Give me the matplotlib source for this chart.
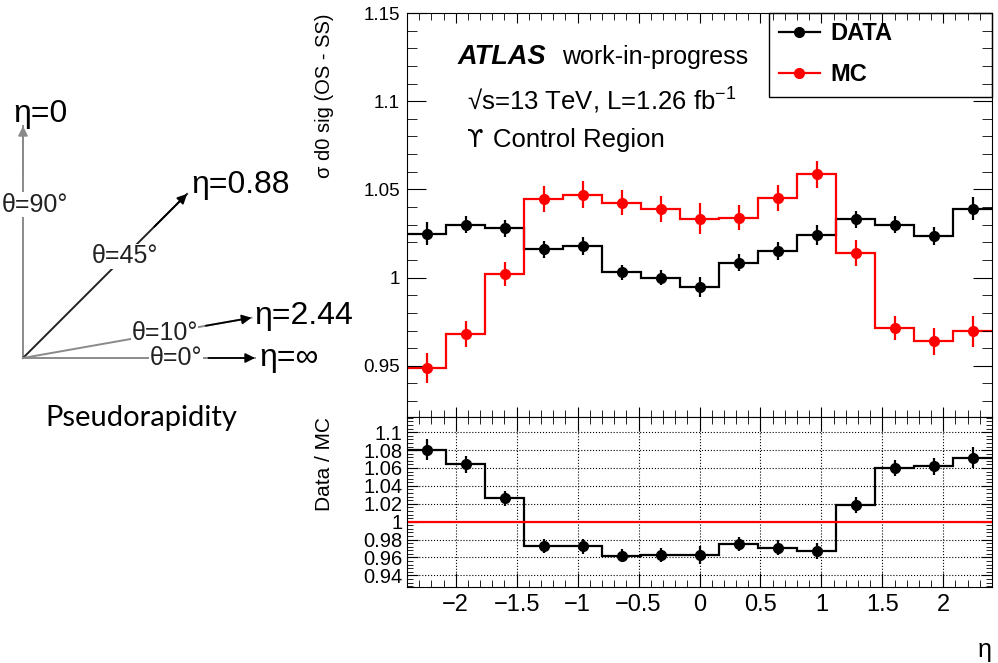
import numpy as np
import matplotlib
matplotlib.use('Agg')
import matplotlib.pyplot as plt
from matplotlib.patches import Rectangle
from matplotlib.lines import Line2D
from matplotlib.ticker import MultipleLocator, FuncFormatter

plt.rcParams['font.family'] = ['Liberation Sans', 'DejaVu Sans']
plt.rcParams['mathtext.fontset'] = 'custom'
plt.rcParams['mathtext.rm'] = 'Liberation Sans'
plt.rcParams['mathtext.it'] = 'Liberation Sans:italic'
plt.rcParams['mathtext.bf'] = 'Liberation Sans:bold'

# eta bins (15 bins)
eta_edges = [-2.4, -2.08, -1.76, -1.44, -1.12, -0.8, -0.48, -0.16,
             0.16, 0.48, 0.8, 1.12, 1.44, 1.76, 2.08, 2.4]

data_vals = [1.025, 1.030, 1.028, 1.016, 1.018, 1.003, 1.000, 0.9945,
             1.0085, 1.015, 1.024, 1.033, 1.030, 1.0235, 1.039]
data_errs = [0.0063, 0.0049, 0.0047, 0.0047, 0.0051, 0.0044, 0.0042, 0.0057,
             0.0048, 0.0050, 0.0057, 0.0050, 0.0049, 0.0052, 0.0066]
mc_vals = [0.9485, 0.968, 1.002, 1.0445, 1.047, 1.0425, 1.039, 1.0335,
           1.034, 1.0453, 1.0585, 1.014, 0.9715, 0.964, 0.9696]
mc_errs = [0.0085, 0.0075, 0.0069, 0.0073, 0.0075, 0.0070, 0.0072, 0.0090,
           0.0070, 0.0073, 0.0075, 0.0074, 0.0066, 0.0076, 0.0088]

# pseudorapidity sketch
theta_deg = [90, 45, 10, 0]
theta_labels = ['θ=90°', 'θ=45°', 'θ=10°', 'θ=0°']
eta_labels = ['η=0', 'η=0.88', 'η=2.44', 'η=∞']

edges = np.array(eta_edges)
centers = 0.5 * (edges[1:] + edges[:-1])
d = np.array(data_vals)
m = np.array(mc_vals)
ratio = d / m
ratio_err = ratio * np.sqrt((np.array(data_errs) / d) ** 2 + (np.array(mc_errs) / m) ** 2)

W, H = 998, 663
fig = plt.figure(figsize=(W / 100, H / 100), dpi=100)


def rect(x0, y0, x1, y1):
    return [x0 / W, 1 - y1 / H, (x1 - x0) / W, (y1 - y0) / H]


def fmt(v, pos):
    s = f'{v:g}'
    if s == '-0':
        s = '0'
    return s.replace('-', '\u2212')


# ---- sketch on the left ----
dax = fig.add_axes(rect(0, 0, 400, H))
dax.set_xlim(0, 400)
dax.set_ylim(H, 0)
dax.axis('off')
dax.patch.set_visible(False)
ox, oy = 23, 358
L = 232
line_cols = ['#8a8a8a', '#222222', '#8a8a8a', '#8a8a8a']
eta_off = [(-10, -12), (4, -9), (3, -2), (4, 0)]
lab_frac = [0.66, 0.62, 0.62, 0.66]
for i, th in enumerate(theta_deg):
    c, s = np.cos(np.radians(th)), np.sin(np.radians(th))
    tx, ty = ox + L * c, oy - L * s
    dax.plot([ox, tx], [oy, ty], color=line_cols[i], lw=1.4)
    dax.annotate('', xy=(tx, ty), xytext=(ox + 0.8 * L * c, oy - 0.8 * L * s),
                 arrowprops=dict(arrowstyle='-|>', color='black' if i else line_cols[i],
                                 lw=1.3, mutation_scale=14, shrinkA=0, shrinkB=0))
    lx, ly = ox + lab_frac[i] * L * c, oy - lab_frac[i] * L * s
    if th == 90:
        dax.text(2, ly, theta_labels[i], fontsize=18, ha='left', va='center',
                 color='#222222', bbox=dict(fc='white', ec='none', pad=0.3))
    else:
        dax.text(lx, ly, theta_labels[i], fontsize=18, ha='center', va='center',
                 color='#222222', bbox=dict(fc='white', ec='none', pad=0.3))
    dax.text(tx + eta_off[i][0], ty + eta_off[i][1], eta_labels[i], fontsize=23,
             ha='left', va='center')
dax.text(141, 418, 'Pseudorapidity', fontsize=21, ha='center', va='center',
         family=['Lato', 'DejaVu Sans'])

# ---- main panel ----
ax = fig.add_axes(rect(407, 13, 992, 417))
ax.stairs(data_vals, edges, color='black', lw=1.6, baseline=None)
ax.errorbar(centers, data_vals, yerr=data_errs, fmt='o', color='black', ms=7,
            elinewidth=1.6, capsize=0)
ax.stairs(mc_vals, edges, color='red', lw=1.6, baseline=None)
ax.errorbar(centers, mc_vals, yerr=mc_errs, fmt='o', color='red', ms=7,
            elinewidth=1.6, capsize=0)
ax.set_xlim(-2.4, 2.4)
ax.set_ylim(0.921, 1.15)
ax.xaxis.set_major_locator(MultipleLocator(0.5))
ax.xaxis.set_minor_locator(MultipleLocator(0.1))
ax.yaxis.set_major_locator(MultipleLocator(0.05))
ax.yaxis.set_minor_locator(MultipleLocator(0.01))
ax.yaxis.set_major_formatter(FuncFormatter(fmt))
ax.tick_params(which='both', direction='in', top=True, right=True, labelbottom=False)
ax.tick_params(axis='y', which='major', length=14, labelsize=13.5, pad=5)
ax.tick_params(axis='y', which='minor', length=7)
ax.tick_params(axis='x', which='major', length=7)
ax.tick_params(axis='x', which='minor', length=5)
ax.set_ylabel('σ d0 sig (OS - SS)', fontsize=14.5, loc='top')
ax.yaxis.set_label_coords(-0.125, 1.0)

ax.text(0.087, 0.874, 'ATLAS', transform=ax.transAxes, fontsize=19.5,
        fontweight='bold', fontstyle='italic', va='baseline')
ax.text(0.265, 0.874, 'work-in-progress', transform=ax.transAxes, fontsize=18,
        va='baseline')
ax.text(0.1026, 0.760, '√s=13 TeV, L=1.26 fb$^{-1}$', transform=ax.transAxes,
        fontsize=18.5, va='baseline')
ax.text(0.1026, 0.668, 'ϒ', transform=ax.transAxes, family=['DejaVu Sans'],
        fontsize=17, va='baseline')
ax.text(0.147, 0.668, 'Control Region', transform=ax.transAxes,
        fontsize=18.5, va='baseline')

handles = [Line2D([], [], color='black', marker='o', ms=7, lw=1.6),
           Line2D([], [], color='red', marker='o', ms=7, lw=1.6)]
ax.legend(handles, ['DATA', 'MC'], loc='upper left', bbox_to_anchor=(0.619, 1.0),
          frameon=False, borderaxespad=0, borderpad=0.4, handlelength=1.75,
          handletextpad=0.45, labelspacing=0.75, prop=dict(weight='bold', size=17))
ax.add_patch(Rectangle((0.619, 0.792), 0.381, 0.208, transform=ax.transAxes,
                       fill=False, ec='black', lw=1.0, clip_on=False))

# ---- ratio panel ----
rax = fig.add_axes(rect(407, 417, 992, 587))
rax.axhline(1.0, color='red', lw=1.6)
rax.stairs(ratio, edges, color='black', lw=1.6, baseline=None)
rax.errorbar(centers, ratio, yerr=ratio_err, fmt='o', color='black', ms=7,
             elinewidth=1.6, capsize=0)
rax.set_xlim(-2.4, 2.4)
rax.set_ylim(0.927, 1.117)
rax.xaxis.set_major_locator(MultipleLocator(0.5))
rax.xaxis.set_minor_locator(MultipleLocator(0.1))
rax.yaxis.set_major_locator(MultipleLocator(0.02))
rax.yaxis.set_minor_locator(MultipleLocator(0.004))
rax.xaxis.set_major_formatter(FuncFormatter(fmt))
rax.yaxis.set_major_formatter(FuncFormatter(fmt))
rax.grid(True, which='major', ls=':', color='black', lw=0.8)
rax.tick_params(which='both', direction='in', top=True, right=True)
rax.tick_params(axis='y', which='major', length=8, labelsize=14.5, pad=3)
rax.tick_params(axis='y', which='minor', length=4)
rax.tick_params(axis='x', which='major', length=10, labelsize=17, pad=5)
rax.tick_params(axis='x', which='minor', length=5)
rax.set_ylabel('Data / MC', fontsize=15, loc='top')
rax.yaxis.set_label_coords(-0.125, 1.0)
rax.set_xlabel('η', fontsize=18, loc='right')
rax.xaxis.set_label_coords(1.0, -0.3)

fig.savefig('out.png', dpi=100)
